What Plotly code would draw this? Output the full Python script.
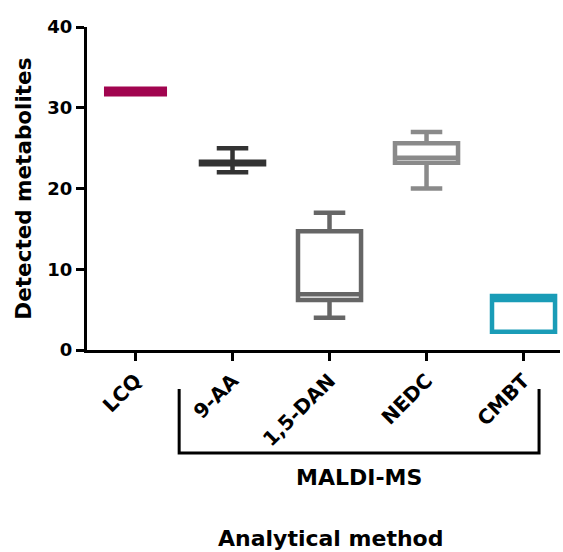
import plotly.graph_objects as go

categories = ["LCQ", "9-AA", "1,5-DAN", "NEDC", "CMBT"]
lower_fence = [32, 22, 4, 20, 2.25]
q1_vals = [32, 23.0, 6.2, 23.2, 2.25]
median_vals = [32, 23.15, 6.9, 23.8, 6.2]
q3_vals = [32, 23.3, 14.7, 25.6, 6.7]
upper_fence = [32, 25, 17, 27, 6.7]
colors = ["#A1044F", "#333333", "#666666", "#8A8A8A", "#1A9CB7"]
line_widths = [10, 4.5, 4.5, 4.5, 4.5]
y_ticks = [0, 10, 20, 30, 40]

FONT = "DejaVu Sans"

fig = go.Figure()
for i, cat in enumerate(categories):
    fig.add_trace(go.Box(
        x=[i],
        q1=[q1_vals[i]],
        median=[median_vals[i]],
        q3=[q3_vals[i]],
        lowerfence=[lower_fence[i]],
        upperfence=[upper_fence[i]],
        name=cat,
        width=0.65,
        whiskerwidth=0.5,
        line=dict(color=colors[i], width=line_widths[i]),
        fillcolor="rgba(255,255,255,0)",
        boxpoints=False,
        showlegend=False,
        hoverinfo="skip",
    ))

fig.update_layout(
    width=563,
    height=552,
    margin=dict(l=87, r=3, t=27, b=202),
    paper_bgcolor="white",
    plot_bgcolor="white",
    font=dict(family=FONT, color="black"),
    showlegend=False,
)

fig.update_xaxes(
    range=[-0.5, 4.376],
    tickvals=list(range(len(categories))),
    ticktext=categories,
    tickangle=-45,
    tickfont=dict(family=FONT, size=20, color="black", weight="bold"),
    showline=True, linewidth=3, linecolor="black",
    ticks="outside", ticklen=8, tickwidth=3, tickcolor="black",
    showgrid=False, zeroline=False,
)
fig.update_yaxes(
    range=[0, 40],
    tickvals=y_ticks,
    tickfont=dict(family=FONT, size=18, color="black", weight="bold"),
    showline=True, linewidth=3, linecolor="black",
    ticks="outside", ticklen=8, tickwidth=3, tickcolor="black",
    showgrid=False, zeroline=False,
)

# MALDI-MS bracket
fig.add_shape(
    type="path",
    xref="x", yref="paper",
    path="M 0.45,-0.1207 L 0.45,-0.319 L 4.16,-0.319 L 4.16,-0.1207",
    line=dict(color="black", width=3),
)
fig.add_annotation(
    x=2.305, xref="x", y=-0.396, yref="paper",
    text="MALDI-MS", showarrow=False, yanchor="middle",
    font=dict(family=FONT, size=22, color="black", weight="bold"),
)
fig.add_annotation(
    x=0.514, xref="paper", y=-0.585, yref="paper",
    text="Analytical method", showarrow=False, yanchor="middle",
    font=dict(family=FONT, size=22, color="black", weight="bold"),
)
fig.add_annotation(
    x=-0.135, xref="paper", y=0.5, yref="paper",
    text="Detected metabolites", showarrow=False, textangle=-90,
    xanchor="center", yanchor="middle",
    font=dict(family=FONT, size=21.5, color="black", weight="bold"),
)

fig.write_html("out.html")
